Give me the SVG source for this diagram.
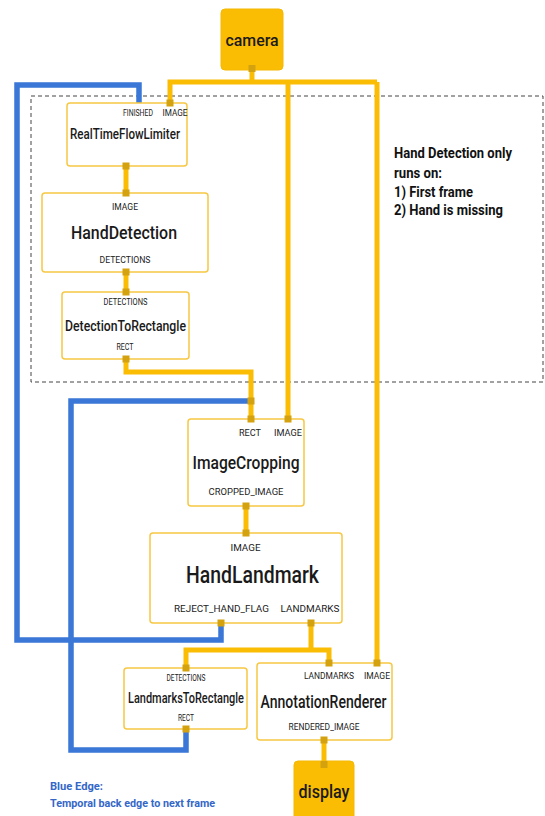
<svg xmlns="http://www.w3.org/2000/svg" width="545" height="816" viewBox="0 0 545 816">
<defs>
<style>
.bg{fill:#ffffff}
.node{fill:#ffffff;stroke:#F7C843;stroke-width:1.5}
.io{fill:#FBBC04;stroke:#F5B800;stroke-width:1}
.port{fill:#D4A20E}
.y{fill:none;stroke:#FBBC04;stroke-width:5;stroke-linejoin:miter}
.b{fill:none;stroke:#3A77D6;stroke-width:5.5;stroke-linejoin:miter}
.dash{fill:none;stroke:#444;stroke-width:1;stroke-dasharray:4 3}
text{font-family:Roboto,"Liberation Sans",sans-serif;fill:#222;text-anchor:middle}
.name{font-weight:500;fill:#1a1a1a}
.lbl{font-size:9px}
.note{font-weight:bold;text-anchor:start;font-size:14px;fill:#111}
.blue{font-weight:bold;text-anchor:start;font-size:11.5px;fill:#3467C8}
</style>
</defs>
<rect class="bg" x="0" y="0" width="545" height="816"/>
<rect class="dash" x="31" y="96" width="512" height="286"/>

<g id="connectors">
<path class="b" d="M221,623 V640 H17 V85 H139 V103"/>
<path class="b" d="M186,729 V750 H71 V401 H251"/>
<path class="y" d="M252,70 V82"/>
<path class="y" d="M170,103 V82 H377"/>
<path class="y" d="M288,82 V419"/>
<path class="y" d="M377,82 V663"/>
<path class="y" d="M126,166 V193"/>
<path class="y" d="M126,272 V292"/>
<path class="y" d="M126,359 V372 H251 V419"/>
<path class="y" d="M246,506 V533"/>
<path class="y" d="M311,623 V650"/>
<path class="y" d="M186,668 V650 H329 V663"/>
<path class="y" d="M324,740 V761"/>
</g>

<g id="camera">
<rect class="io" x="221" y="9" width="62" height="61" rx="4"/>
<text class="name" x="252" y="46" font-size="17" textLength="53" lengthAdjust="spacingAndGlyphs">camera</text>
<rect class="port" x="248.5" y="65" width="7" height="7"/>
</g>

<g id="RealTimeFlowLimiter">
<rect class="node" x="67" y="103" width="120" height="63" rx="3"/>
<text class="lbl" x="138" y="116" font-size="8" textLength="30" lengthAdjust="spacingAndGlyphs">FINISHED</text>
<text class="lbl" x="175" y="116" font-size="8" textLength="25" lengthAdjust="spacingAndGlyphs">IMAGE</text>
<text class="name" x="125" y="139" font-size="14" textLength="110" lengthAdjust="spacingAndGlyphs">RealTimeFlowLimiter</text>
<rect class="port" x="166.5" y="99.5" width="7" height="7"/>
<rect class="port" x="122.5" y="162.5" width="7" height="7"/>
</g>

<g id="HandDetection">
<rect class="node" x="42" y="193" width="166" height="79" rx="3"/>
<text class="lbl" x="125" y="209.5" textLength="26" lengthAdjust="spacingAndGlyphs">IMAGE</text>
<text class="name" x="124" y="239" font-size="19" textLength="106" lengthAdjust="spacingAndGlyphs">HandDetection</text>
<text class="lbl" x="125" y="262.5" textLength="51" lengthAdjust="spacingAndGlyphs">DETECTIONS</text>
<rect class="port" x="122.5" y="189.5" width="7" height="7"/>
<rect class="port" x="122.5" y="268.5" width="7" height="7"/>
</g>

<g id="DetectionToRectangle">
<rect class="node" x="62" y="292" width="127" height="67" rx="3"/>
<text class="lbl" x="125.5" y="305" font-size="8" textLength="44" lengthAdjust="spacingAndGlyphs">DETECTIONS</text>
<text class="name" x="125.5" y="330.5" font-size="15" textLength="121" lengthAdjust="spacingAndGlyphs">DetectionToRectangle</text>
<text class="lbl" x="125" y="350" font-size="8" textLength="17" lengthAdjust="spacingAndGlyphs">RECT</text>
<rect class="port" x="122.5" y="288.5" width="7" height="7"/>
<rect class="port" x="122.5" y="355.5" width="7" height="7"/>
</g>

<g id="ImageCropping">
<rect class="node" x="188" y="419" width="116" height="87" rx="3"/>
<text class="lbl" x="250" y="435.5" font-size="9.5" textLength="22" lengthAdjust="spacingAndGlyphs">RECT</text>
<text class="lbl" x="288" y="435.5" font-size="9.5" textLength="28" lengthAdjust="spacingAndGlyphs">IMAGE</text>
<text class="name" x="246" y="468.5" font-size="19" textLength="107" lengthAdjust="spacingAndGlyphs">ImageCropping</text>
<text class="lbl" x="246" y="494.5" font-size="9.5" textLength="75" lengthAdjust="spacingAndGlyphs">CROPPED_IMAGE</text>
<rect class="port" x="247.5" y="415.5" width="7" height="7"/>
<rect class="port" x="284.5" y="415.5" width="7" height="7"/>
<rect class="port" x="247.5" y="397.5" width="7" height="7"/>
<rect class="port" x="242.5" y="502.5" width="7" height="7"/>
</g>

<g id="HandLandmark">
<rect class="node" x="150" y="533" width="192" height="90" rx="3"/>
<text class="lbl" x="245.5" y="550.5" font-size="10" textLength="30" lengthAdjust="spacingAndGlyphs">IMAGE</text>
<text class="name" x="252.5" y="583" font-size="24" textLength="133" lengthAdjust="spacingAndGlyphs">HandLandmark</text>
<text class="lbl" x="221.5" y="611.5" font-size="10" textLength="95" lengthAdjust="spacingAndGlyphs">REJECT_HAND_FLAG</text>
<text class="lbl" x="310" y="611.5" font-size="10" textLength="59" lengthAdjust="spacingAndGlyphs">LANDMARKS</text>
<rect class="port" x="242.5" y="529.5" width="7" height="7"/>
<rect class="port" x="217.5" y="619.5" width="7" height="7"/>
<rect class="port" x="307.5" y="619.5" width="7" height="7"/>
</g>

<g id="LandmarksToRectangle">
<rect class="node" x="124" y="668" width="123" height="61" rx="3"/>
<text class="lbl" x="186" y="681" font-size="7.5" textLength="39" lengthAdjust="spacingAndGlyphs">DETECTIONS</text>
<text class="name" x="186" y="702.5" font-size="14" textLength="116" lengthAdjust="spacingAndGlyphs">LandmarksToRectangle</text>
<text class="lbl" x="186" y="721" font-size="7.5" textLength="16" lengthAdjust="spacingAndGlyphs">RECT</text>
<rect class="port" x="182.5" y="664.5" width="7" height="7"/>
<rect class="port" x="182.5" y="725.5" width="7" height="7"/>
</g>

<g id="AnnotationRenderer">
<rect class="node" x="257" y="663" width="135" height="77" rx="3"/>
<text class="lbl" x="329" y="678.5" font-size="9.5" textLength="50" lengthAdjust="spacingAndGlyphs">LANDMARKS</text>
<text class="lbl" x="377" y="678.5" font-size="9.5" textLength="26" lengthAdjust="spacingAndGlyphs">IMAGE</text>
<text class="name" x="323.5" y="707.5" font-size="18" textLength="126" lengthAdjust="spacingAndGlyphs">AnnotationRenderer</text>
<text class="lbl" x="324" y="729.5" font-size="9.5" textLength="71" lengthAdjust="spacingAndGlyphs">RENDERED_IMAGE</text>
<rect class="port" x="325.5" y="659.5" width="7" height="7"/>
<rect class="port" x="373.5" y="659.5" width="7" height="7"/>
<rect class="port" x="320.5" y="736.5" width="7" height="7"/>
</g>

<g id="display">
<rect class="io" x="294" y="761" width="60" height="62" rx="4"/>
<text class="name" x="324" y="798" font-size="19" textLength="51" lengthAdjust="spacingAndGlyphs">display</text>
<rect class="port" x="320.5" y="761" width="7" height="7"/>
</g>

<g id="note">
<text class="note" x="394" y="158" textLength="118" lengthAdjust="spacingAndGlyphs">Hand Detection only</text>
<text class="note" x="394" y="178" textLength="48" lengthAdjust="spacingAndGlyphs">runs on:</text>
<text class="note" x="394" y="196.5" textLength="79" lengthAdjust="spacingAndGlyphs">1) First frame</text>
<text class="note" x="394" y="215" textLength="109" lengthAdjust="spacingAndGlyphs">2) Hand is missing</text>
</g>

<g id="legend">
<text class="blue" x="50" y="790" textLength="53" lengthAdjust="spacingAndGlyphs">Blue Edge:</text>
<text class="blue" x="50" y="806.5" textLength="165" lengthAdjust="spacingAndGlyphs">Temporal back edge to next frame</text>
</g>
</svg>
